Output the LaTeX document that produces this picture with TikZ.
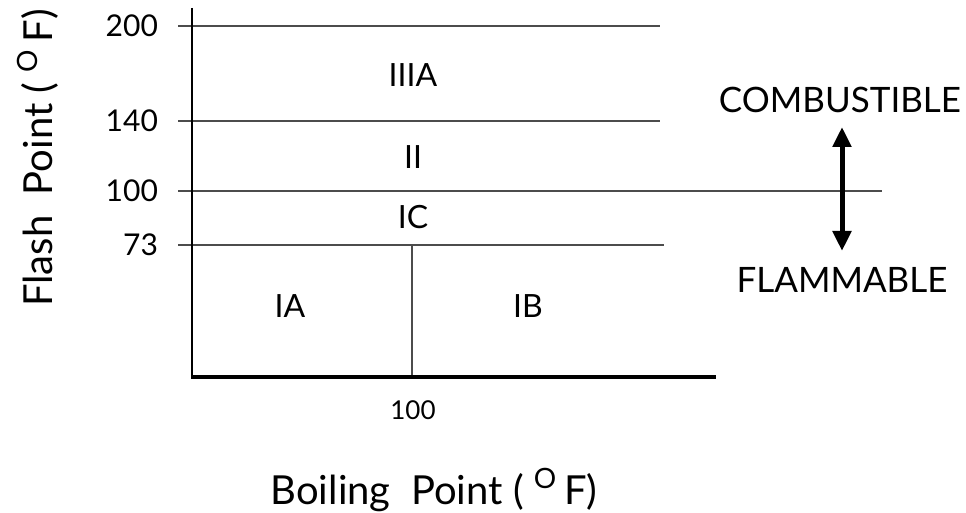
\documentclass[tikz,border=0pt]{standalone}
\usepackage{fontspec}
\setmainfont{Lato}
\usepackage{tikz}
\usetikzlibrary{arrows.meta,positioning}

\begin{document}
\begin{tikzpicture}[
    x=0.5pt, y=0.5pt,
    axis/.style={draw=black, line width=1.2pt},
    level/.style={draw=black!70, line width=0.6pt},
    tick/.style={font=\fontsize{15}{17}\selectfont, anchor=east},
    region/.style={font=\fontsize{16}{18}\selectfont},
    caption/.style={font=\fontsize{20}{24}\selectfont},
    class/.style={font=\fontsize{17.5}{20}\selectfont}
]
\useasboundingbox (0,0) rectangle (966,513);

% Levels of flash point
\draw[level] (178,487) -- (660,487);
\draw[level] (178,392) -- (660,392);
\draw[level] (178,322) -- (882,322);
\draw[level] (178,268) -- (664,268);
\draw[level] (412,268) -- (412,134);

% Axes
\draw[axis] (192,505) -- (192,134);
\draw[axis, line width=1.6pt] (192,136) -- (716,136);

% Axis values
\node[tick] (v200) at (165,487) {200};
\node[tick] (v140) at (165,392) {140};
\node[tick] (v100) at (165,322) {100};
\node[tick] (v73) at (165,268) {73};
\node[font=\fontsize{13}{15}\selectfont] (b100) at (413,103) {100};

% Classes
\node[region] (c3a) at (413,438) {IIIA};
\node[region] (c2) at (413,356) {II};
\node[region] (c1c) at (413,296) {IC};
\node[region] (c1a) at (290,207) {IA};
\node[region] (c1b) at (528,207) {IB};

% Axis titles
\node[caption] (xlab) at (434,23) {Boiling\ \ Point (\ \textsuperscript{O}\,F)};
\node[caption, rotate=90] (ylab) at (38,355) {Flash\ \ Point (\ \textsuperscript{O}\,F)};

% Combustible / flammable
\node[class] (comb) at (840,413) {COMBUSTIBLE};
\node[class] (flam) at (842,233) {FLAMMABLE};
\coordinate (up) at (842,386);
\coordinate (dn) at (842,262);
\draw[line width=2.5pt, {Triangle[length=10pt,width=9pt]}-{Triangle[length=10pt,width=9pt]}] (up) -- (dn);

\end{tikzpicture}
\end{document}
